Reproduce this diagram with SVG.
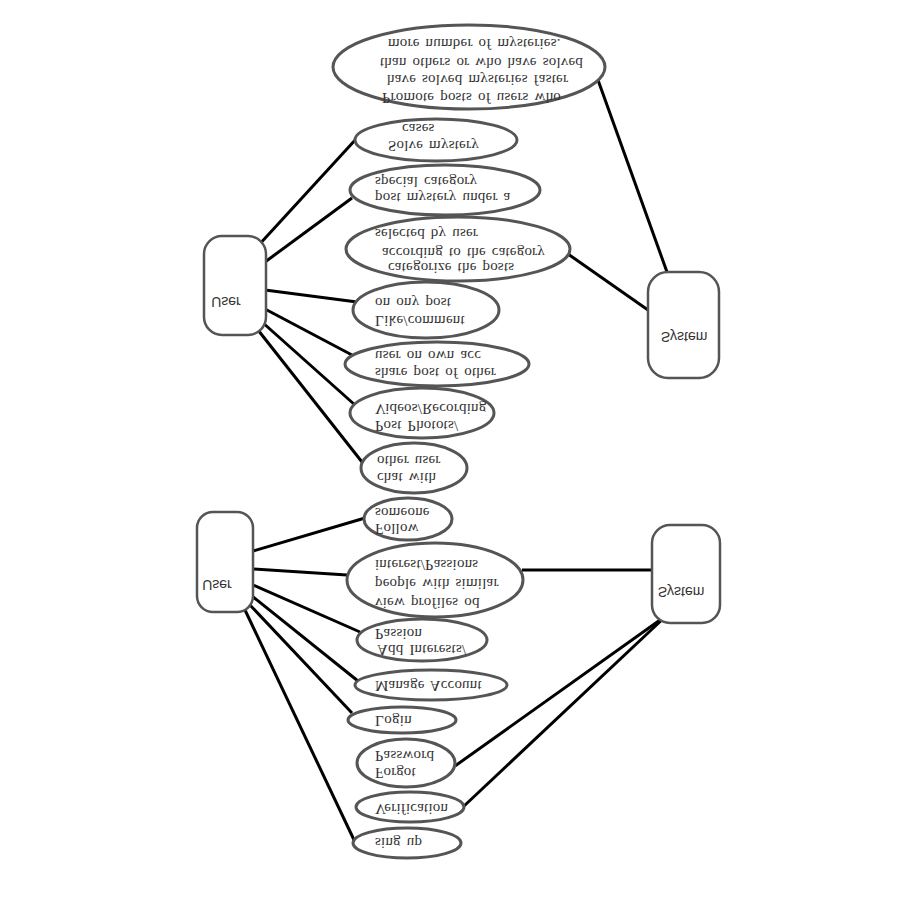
<svg xmlns="http://www.w3.org/2000/svg" width="900" height="900" viewBox="0 0 900 900">
<style>
.uc{fill:#fff;stroke:#555;stroke-width:3}
.box{fill:#fff;stroke:#555;stroke-width:2.5}
.t{font-family:"Liberation Serif",serif;font-size:15px;fill:#333;word-spacing:2px;letter-spacing:0.2px}
.bt{font-family:"Liberation Sans",sans-serif;font-size:14px;fill:#333;text-anchor:middle}
#connectors line{stroke:#000;stroke-width:3}
</style>
<rect width="900" height="900" fill="#fff"/>
<g id="connectors">
<line x1="257" y1="247" x2="357" y2="138"/>
<line x1="265" y1="262" x2="352" y2="198"/>
<line x1="265" y1="290" x2="357" y2="302"/>
<line x1="265" y1="309" x2="352" y2="355"/>
<line x1="262" y1="322" x2="355" y2="405"/>
<line x1="258" y1="330" x2="362" y2="462"/>
<line x1="667" y1="272" x2="598" y2="80"/>
<line x1="648" y1="310" x2="568" y2="254"/>
<line x1="253" y1="551" x2="365" y2="518"/>
<line x1="253" y1="569" x2="347" y2="575"/>
<line x1="253" y1="585" x2="360" y2="632"/>
<line x1="252" y1="596" x2="358" y2="681"/>
<line x1="250" y1="605" x2="352" y2="713"/>
<line x1="245" y1="610" x2="355" y2="842"/>
<line x1="652" y1="570" x2="522" y2="570"/>
<line x1="660" y1="620" x2="455" y2="766"/>
<line x1="665" y1="617" x2="463" y2="807"/>
</g>
<g id="user1"><rect class="box" x="204" y="236" width="62" height="99" rx="18"/><text class="bt" transform="matrix(1 0 0 -1 226 297)">User</text></g>
<g id="user2"><rect class="box" x="197" y="512" width="56" height="100" rx="16"/><text class="bt" transform="matrix(1 0 0 -1 217 580)">User</text></g>
<g id="system1"><rect class="box" x="648" y="272" width="71" height="106" rx="20"/><text class="bt" transform="matrix(1 0 0 -1 684 332)">System</text></g>
<g id="system2"><rect class="box" x="652" y="525" width="68" height="98" rx="18"/><text class="bt" transform="matrix(1 0 0 -1 681 587)">System</text></g>
<g id="promote"><ellipse class="uc" cx="469" cy="67" rx="136" ry="42"/><text class="t" transform="matrix(1 0 0 -1 0 93)"><tspan x="382" y="0">Promote posts of users who</tspan><tspan x="387" y="18">have solved mysteries faster</tspan><tspan x="380" y="35">than others or who have solved</tspan><tspan x="388" y="54">more number of mysteries.</tspan></text></g>
<g id="solve"><ellipse class="uc" cx="436" cy="140" rx="81" ry="21"/><text class="t" transform="matrix(1 0 0 -1 0 141)"><tspan x="388" y="0">Solve mystery</tspan><tspan x="402" y="17">cases</tspan></text></g>
<g id="postmystery"><ellipse class="uc" cx="445" cy="190" rx="95" ry="25"/><text class="t" transform="matrix(1 0 0 -1 0 193)"><tspan x="375" y="0">post mystery under a</tspan><tspan x="375" y="16">special category</tspan></text></g>
<g id="categorize"><ellipse class="uc" cx="458" cy="249" rx="112" ry="32"/><text class="t" transform="matrix(1 0 0 -1 0 263)"><tspan x="388" y="0">categorize the posts</tspan><tspan x="382" y="15">according to the category</tspan><tspan x="375" y="34">selected by user</tspan></text></g>
<g id="like"><ellipse class="uc" cx="426" cy="310" rx="73" ry="28"/><text class="t" transform="matrix(1 0 0 -1 0 316)"><tspan x="375" y="0">Like/comment</tspan><tspan x="375" y="18">on ony post</tspan></text></g>
<g id="share"><ellipse class="uc" cx="437" cy="364" rx="92" ry="22"/><text class="t" transform="matrix(1 0 0 -1 0 368)"><tspan x="375" y="0">share post of other</tspan><tspan x="375" y="17">user on own acc</tspan></text></g>
<g id="postphotos"><ellipse class="uc" cx="422" cy="413" rx="72" ry="25"/><text class="t" transform="matrix(1 0 0 -1 0 421)"><tspan x="375" y="0">Post Photots/</tspan><tspan x="375" y="17">Videos/Recording</tspan></text></g>
<g id="chat"><ellipse class="uc" cx="414" cy="468" rx="53" ry="25"/><text class="t" transform="matrix(1 0 0 -1 0 473)"><tspan x="377" y="0">chat with</tspan><tspan x="377" y="17">other user</tspan></text></g>
<g id="follow"><ellipse class="uc" cx="408" cy="519" rx="44" ry="21"/><text class="t" transform="matrix(1 0 0 -1 0 524)"><tspan x="375" y="0">Follow</tspan><tspan x="375" y="16">someone</tspan></text></g>
<g id="viewprofiles"><ellipse class="uc" cx="435" cy="580" rx="88" ry="37"/><text class="t" transform="matrix(1 0 0 -1 0 598)"><tspan x="375" y="0">view profiles od</tspan><tspan x="375" y="19">people with similar</tspan><tspan x="375" y="38">interest/Passions</tspan></text></g>
<g id="addinterests"><ellipse class="uc" cx="422" cy="640" rx="65" ry="21"/><text class="t" transform="matrix(1 0 0 -1 0 645)"><tspan x="377" y="0">Add Interests/</tspan><tspan x="375" y="16">Passion</tspan></text></g>
<g id="manage"><ellipse class="uc" cx="431" cy="685" rx="76" ry="15"/><text class="t" transform="matrix(1 0 0 -1 375 681)">Manage Account</text></g>
<g id="login"><ellipse class="uc" cx="402" cy="720" rx="54" ry="13"/><text class="t" transform="matrix(1 0 0 -1 375 716)">Login</text></g>
<g id="forgot"><ellipse class="uc" cx="406" cy="763" rx="49" ry="24"/><text class="t" transform="matrix(1 0 0 -1 0 768)"><tspan x="375" y="0">Forgot</tspan><tspan x="375" y="17">Password</tspan></text></g>
<g id="verification"><ellipse class="uc" cx="410" cy="807" rx="54" ry="15"/><text class="t" transform="matrix(1 0 0 -1 375 804)">Verification</text></g>
<g id="signup"><ellipse class="uc" cx="407" cy="843" rx="54" ry="15"/><text class="t" transform="matrix(1 0 0 -1 375 838)">sing up</text></g>
</svg>
